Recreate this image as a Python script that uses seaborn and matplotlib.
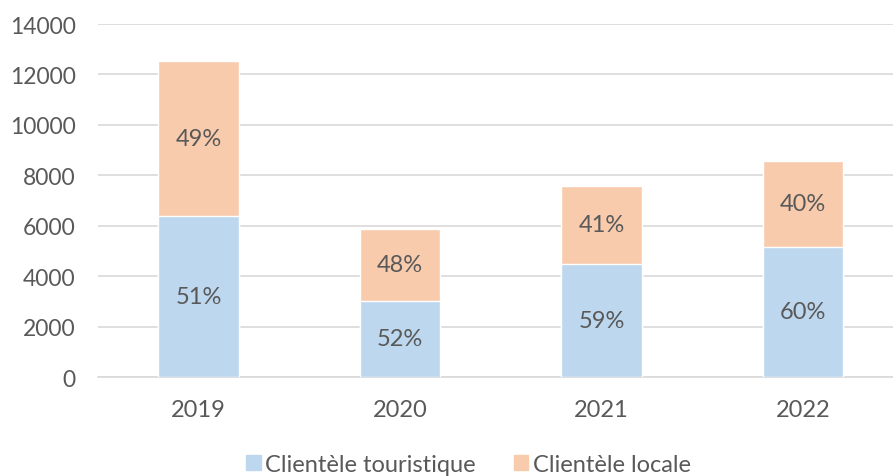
import pandas as pd
import matplotlib.pyplot as plt
import seaborn as sns

# Valeurs
annees = ["2019", "2020", "2021", "2022"]
touristique = [6400, 3030, 4480, 5160]
locale = [6120, 2830, 3110, 3410]

df = pd.DataFrame({"annee": annees, "touristique": touristique, "locale": locale})
df["total"] = df["touristique"] + df["locale"]

sns.set_style("white")
plt.rcParams["font.family"] = ["Lato", "DejaVu Sans"]

gris = "#595959"
bleu = "#BDD7EE"
orange = "#F8CBAD"

fig = plt.figure(figsize=(8.93, 4.77), dpi=100)
ax = fig.add_axes([0.1097, 0.2075, 0.890, 0.740])

# barres empilées : total (orange) derrière, touristique (bleu) devant
sns.barplot(data=df, x="annee", y="total", color=orange, width=0.4, saturation=1, ax=ax, zorder=2)
sns.barplot(data=df, x="annee", y="touristique", color=bleu, width=0.4, saturation=1, ax=ax, zorder=3)

for i, row in df.iterrows():
    pt = round(100 * row["touristique"] / row["total"])
    pl = 100 - pt
    ax.text(i, row["touristique"] / 2, f"{pt}%", ha="center", va="center", fontsize=17, color=gris, zorder=4)
    ax.text(i, row["touristique"] + row["locale"] / 2, f"{pl}%", ha="center", va="center", fontsize=17, color=gris, zorder=4)

ax.set_ylim(0, 14000)
ax.set_xlim(-0.5, 3.445)
ax.set_yticks(range(0, 14001, 2000))
ax.yaxis.grid(True, color="#D9D9D9", linewidth=1.2, zorder=0)
ax.set_axisbelow(True)
ax.set_xlabel("")
ax.set_ylabel("")
ax.tick_params(axis="y", length=0, pad=16, labelsize=16.5, labelcolor=gris)
ax.tick_params(axis="x", length=0, pad=16, labelsize=17, labelcolor=gris)
for s in ["top", "right", "left"]:
    ax.spines[s].set_visible(False)
ax.spines["bottom"].set_color("#D9D9D9")
ax.spines["bottom"].set_linewidth(1.2)

handles = [plt.Rectangle((0, 0), 1, 1, color=bleu), plt.Rectangle((0, 0), 1, 1, color=orange)]
fig.legend(handles, ["Clientèle touristique", "Clientèle locale"], loc="center",
           bbox_to_anchor=(0.5246, 0.025), ncol=2, frameon=False, fontsize=17,
           handlelength=0.6, handleheight=0.6, handletextpad=0.2, columnspacing=1.6,
           labelcolor=gris)

plt.savefig("out.png", dpi=100)
